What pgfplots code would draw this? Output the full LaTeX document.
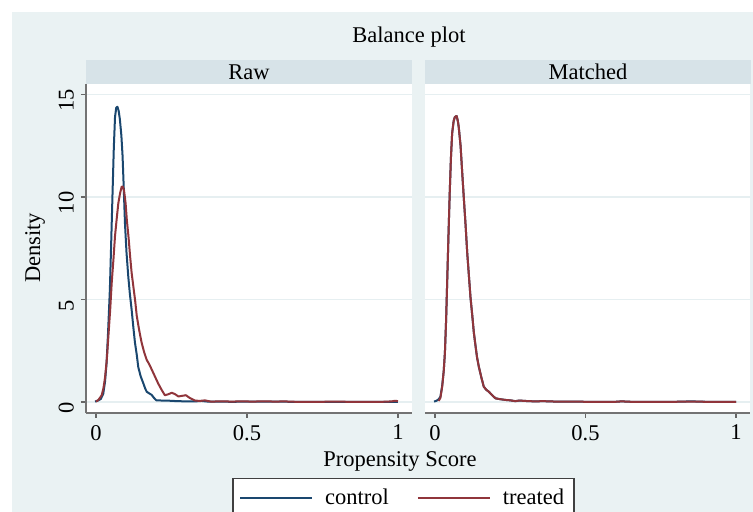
\documentclass[border=0pt]{standalone}
\usepackage{fontspec}
\setmainfont{Liberation Serif}
\usepackage{pgfplots}
\pgfplotsset{compat=1.18}

\definecolor{stnavy}{HTML}{1A476F}
\definecolor{stmaroon}{HTML}{90353B}
\definecolor{stbg}{HTML}{EAF2F3}
\definecolor{ststrip}{HTML}{D7E3E8}
\definecolor{stgrid}{HTML}{E6EFF1}

\newcommand{\fs}{\fontsize{11.25}{13.5}\selectfont}

% kernel densities
\pgfplotstableread{
x y
-0.003 0.02
0.008 0.08
0.016 0.15
0.024 0.4
0.030 1.0
0.035 1.9
0.040 3.4
0.046 5.5
0.050 7.6
0.055 10.3
0.059 12.4
0.063 13.9
0.067 14.35
0.071 14.4
0.075 14.2
0.079 13.8
0.084 13.0
0.088 12.0
0.092 10.4
0.096 8.7
0.101 7.3
0.107 6.1
0.112 5.3
0.118 4.5
0.124 3.6
0.129 2.9
0.135 2.3
0.140 1.7
0.148 1.25
0.157 0.9
0.163 0.65
0.168 0.5
0.176 0.42
0.184 0.35
0.192 0.2
0.200 0.08
0.220 0.07
0.245 0.06
0.270 0.04
0.300 0.03
0.330 0.03
0.350 0.05
0.370 0.02
0.450 0.01
0.550 0.02
0.650 0.01
0.800 0.01
0.900 0.01
1.000 0.01
}\rawcontrol

\pgfplotstableread{
x y
0.000 0.02
0.008 0.1
0.019 0.33
0.025 0.7
0.030 1.2
0.036 2.1
0.041 3.2
0.047 4.5
0.052 5.8
0.058 7.0
0.063 8.1
0.069 9.0
0.074 9.7
0.080 10.2
0.085 10.5
0.089 10.5
0.093 10.3
0.098 9.7
0.102 8.9
0.108 8.0
0.113 7.1
0.118 6.3
0.124 5.6
0.130 4.9
0.135 4.2
0.143 3.5
0.151 2.9
0.160 2.4
0.168 2.05
0.176 1.85
0.184 1.6
0.195 1.25
0.206 0.9
0.217 0.6
0.228 0.33
0.240 0.38
0.251 0.45
0.262 0.38
0.273 0.27
0.285 0.3
0.298 0.33
0.310 0.2
0.328 0.07
0.345 0.05
0.360 0.08
0.380 0.02
0.420 0.03
0.450 0.02
0.480 0.03
0.520 0.02
0.550 0.03
0.600 0.02
0.620 0.03
0.660 0.01
0.750 0.01
0.800 0.02
0.830 0.01
0.950 0.01
0.980 0.03
0.990 0.06
1.000 0.04
}\rawtreated

\pgfplotstableread{
x y
-0.003 0.02
0.005 0.06
0.012 0.13
0.018 0.25
0.024 0.8
0.029 1.5
0.033 2.4
0.037 4.0
0.041 6.1
0.045 8.2
0.049 10.2
0.053 11.9
0.057 13.1
0.062 13.7
0.066 13.9
0.072 13.95
0.076 13.7
0.079 13.4
0.085 12.5
0.090 11.3
0.096 9.9
0.102 8.55
0.107 7.3
0.113 6.1
0.118 5.1
0.124 4.2
0.129 3.4
0.135 2.7
0.140 2.15
0.146 1.7
0.154 1.2
0.162 0.75
0.170 0.6
0.179 0.5
0.190 0.33
0.201 0.18
0.215 0.14
0.234 0.1
0.250 0.08
0.267 0.04
0.280 0.07
0.300 0.05
0.330 0.03
0.360 0.04
0.400 0.02
0.450 0.02
0.500 0.01
0.600 0.01
0.620 0.03
0.650 0.01
0.800 0.01
0.850 0.03
0.900 0.01
1.000 0.01
}\matchcontrol

\pgfplotstableread{
x y
0.012 0.05
0.018 0.2
0.024 0.75
0.029 1.5
0.033 2.4
0.037 4.0
0.041 6.1
0.045 8.2
0.049 10.2
0.053 11.9
0.057 13.1
0.062 13.7
0.066 13.9
0.072 13.95
0.076 13.7
0.079 13.4
0.085 12.5
0.090 11.3
0.096 9.9
0.102 8.55
0.107 7.3
0.113 6.1
0.118 5.1
0.124 4.2
0.129 3.4
0.135 2.7
0.140 2.15
0.146 1.7
0.154 1.2
0.162 0.75
0.170 0.6
0.179 0.5
0.190 0.33
0.201 0.18
0.215 0.14
0.234 0.1
0.250 0.08
0.267 0.04
0.280 0.07
0.300 0.05
0.330 0.03
0.360 0.04
0.400 0.02
0.450 0.02
0.500 0.01
0.600 0.01
0.620 0.03
0.650 0.01
0.800 0.01
0.830 0.02
0.900 0.01
1.000 0.01
}\matchtreated

\pgfplotsset{
  panel/.style={
    scale only axis,
    height=164.5pt,
    xmin=-0.0331, xmax=1.0464,
    ymin=-0.537, ymax=15.51,
    xtick={0,0.5,1}, ytick={0,5,10,15},
    tick align=outside,
    major tick length=2.5pt,
    tick style={black!60, line width=0.6pt},
    axis line style={black!55, line width=0.75pt},
    axis background/.style={fill=white},
    ymajorgrids,
    major grid style={stgrid, line width=0.8pt},
    font=\fs,
    /pgf/number format/assume math mode=true,
    xticklabel style={font=\fs},
    every axis plot/.append style={line width=1pt, line join=round},
  },
}

\begin{document}
\begin{tikzpicture}[x=0.5pt, y=0.5pt, font=\fs]
\useasboundingbox (0,0) rectangle (753,512);
\fill[white] (0,0) rectangle (753,512);
\fill[stbg] (12,-5) rectangle (758,500);

\node at (409,475) {Balance plot};
\fill[ststrip] (86,428) rectangle (412,452);
\fill[ststrip] (425,428) rectangle (751,452);
\node at (249,440) {Raw};
\node at (588,440) {Matched};

\begin{axis}[panel,
  at={(43pt,49.5pt)}, anchor=south west, width=163pt,
  axis x line*=bottom, axis y line*=left,
  yticklabel style={font=\fs, rotate=90, anchor=south, xshift=-3pt},
  legend columns=2,
  legend cell align=left,
  legend style={at={(0.974,-0.1976)}, anchor=north, fill=white,
    draw=black!75, line width=0.6pt, font=\fs, inner xsep=3pt, inner ysep=3pt,
    /tikz/every odd column/.append style={column sep=4pt},
    /tikz/every even column/.append style={column sep=12pt}},
  legend image code/.code={\draw[#1, line width=1pt] (0pt,0pt) -- (36pt,0pt);},
]
\addplot[stnavy] table {\rawcontrol};
\addlegendentry{control}
\addplot[stmaroon] table {\rawtreated};
\addlegendentry{treated}
\end{axis}

\begin{axis}[panel,
  at={(212.5pt,49.5pt)}, anchor=south west, width=162.5pt,
  axis x line*=bottom, axis y line*=left,
  y axis line style={draw=none},
  ytick style={draw=none},
  yticklabels={},
]
\addplot[stnavy] table {\matchcontrol};
\addplot[stmaroon] table {\matchtreated};
\end{axis}

\node[rotate=90] at (35,264) {Density};
\node at (400,51) {Propensity Score};
\end{tikzpicture}
\end{document}
